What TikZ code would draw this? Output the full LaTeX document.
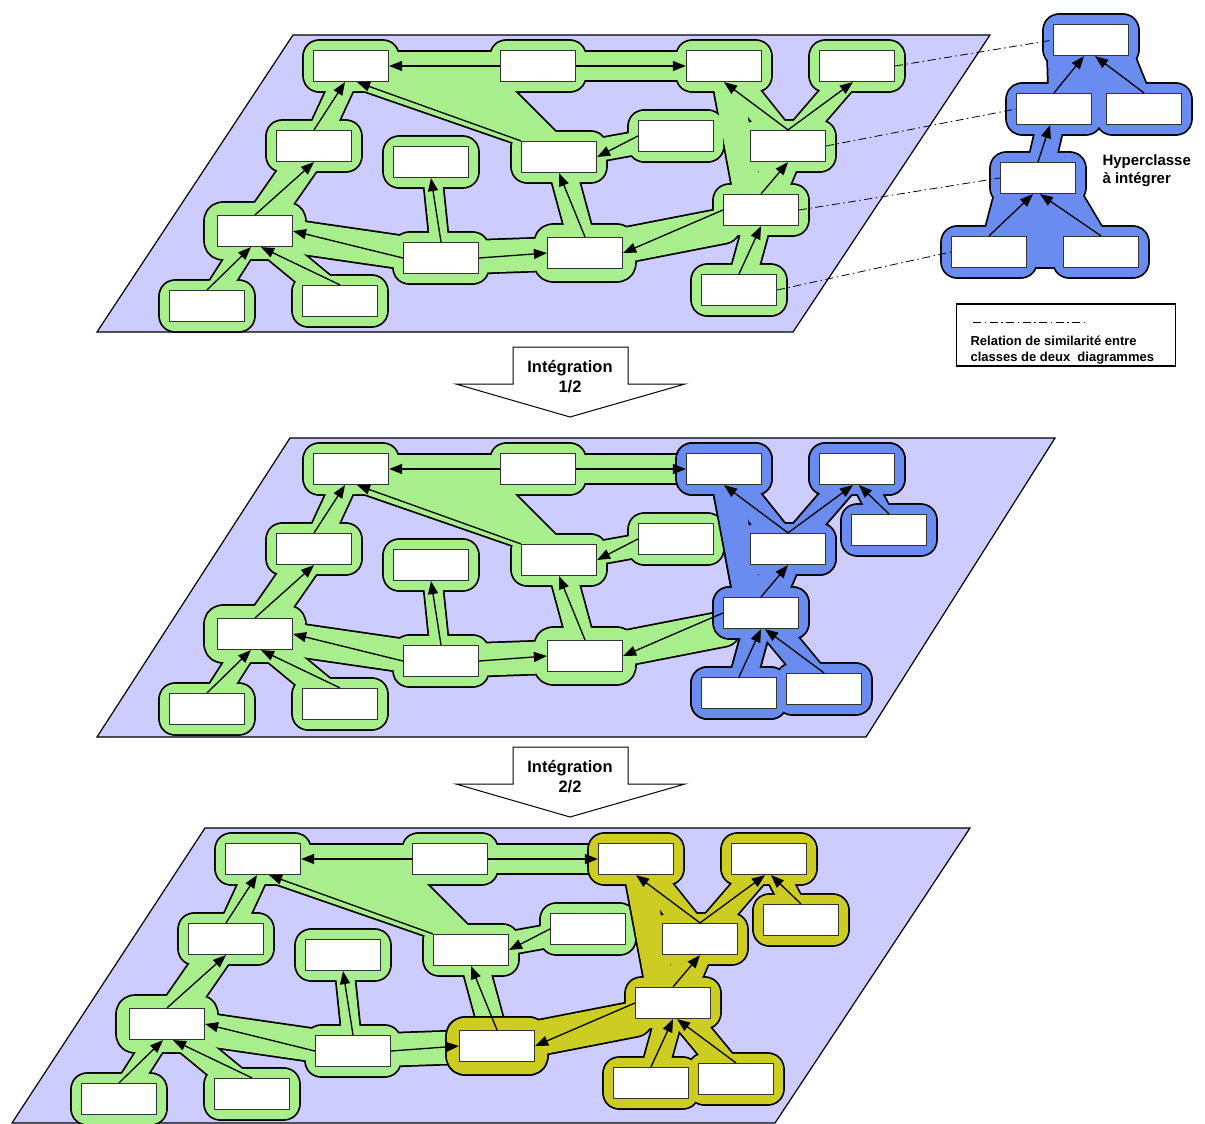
\documentclass[tikz,border=0pt]{standalone}
\usepackage{fontspec}
\setmainfont{Liberation Sans}
\usetikzlibrary{arrows.meta, positioning, calc}
\definecolor{planecol}{HTML}{CCCCFF}
\definecolor{gcol}{HTML}{A8EE8C}
\definecolor{bcol}{HTML}{6A8CF0}
\definecolor{ycol}{HTML}{CCCC22}

\pgfdeclarelayer{plane}
\pgfdeclarelayer{gedge}
\pgfdeclarelayer{gfill}
\pgfdeclarelayer{bedge}
\pgfdeclarelayer{bfill}
\pgfdeclarelayer{yedge}
\pgfdeclarelayer{yfill}
\pgfsetlayers{plane,gedge,gfill,bedge,bfill,yedge,yfill,main}

\tikzset{
  cls/.style={draw=black!80, fill=white, line width=1.2pt, minimum width=75pt, minimum height=31pt, inner sep=0pt},
  inh/.style={-{Triangle[length=13pt,width=10pt]}, line width=1.3pt},
  simil/.style={line width=0.8pt, dash pattern=on 8pt off 3.5pt on 1.5pt off 3.5pt},
  blobline/.style={line cap=round, line join=round},
  planebox/.style={fill=planecol, draw=black, line width=1.2pt},
  bigarrow/.style={fill=white, draw=black, line width=1pt},
  lbl/.style={font=\bfseries\fontsize{16.5}{20}\selectfont, align=center}
}

% one piece of a blob: black rim first, colour on top
\newcommand{\blobpart}[4][]{%
  \begin{pgfonlayer}{#2edge}
    \draw[blobline, color=black, line width=#3+3.5pt, #1] #4;
  \end{pgfonlayer}
  \begin{pgfonlayer}{#2fill}
    \draw[blobline, color=#2col, line width=#3, #1] #4;
  \end{pgfonlayer}%
}
\newcommand{\blobpad}[3]{\blobpart[fill, rounded corners=6pt]{#1}{#3}{(#2.south west) rectangle (#2.north east)}}

% classes of one diagram
\newcommand{\planeclasses}[1]{%
  \node[cls] (#1A) at (351,66) {};
  \node[cls] (#1B) at (314,146) {};
  \node[cls] (#1C) at (255,231) {};
  \node[cls] (#1D) at (207,306) {};
  \node[cls] (#1E) at (340,301) {};
  \node[cls] (#1F) at (431,162) {};
  \node[cls] (#1G) at (441,258) {};
  \node[cls] (#1H) at (538,66) {};
  \node[cls] (#1I) at (559,157) {};
  \node[cls] (#1J) at (676,136) {};
  \node[cls] (#1K) at (585,253) {};
  \node[cls] (#1L) at (724,66) {};
  \node[cls] (#1M) at (857,66) {};
  \node[cls] (#1N) at (788,146) {};
  \node[cls] (#1O) at (761,210) {};
  \node[cls] (#1P) at (739,290) {};
}

\newcommand{\planelinks}[1]{%
  \draw[inh] (#1H.west) -- (#1A.east);
  \draw[inh] (#1H.east) -- (#1L.west);
  \draw[inh] (#1B.north) -- ([xshift=-6pt]#1A.south);
  \draw[inh] (#1C.north) -- (#1B.south);
  \draw[inh] (#1D.north) -- ([xshift=-4pt]#1C.south);
  \draw[inh] (#1E.north) -- ([xshift=6pt]#1C.south);
  \draw[inh] (#1G.west) -- (#1C.east);
  \draw[inh] (#1G.north) -- (#1F.south);
  \draw[inh] (#1G.east) -- (#1K.west);
  \draw[inh] (#1I.north west) -- ([xshift=6pt]#1A.south);
  \draw[inh] (#1K.north) -- (#1I.south);
  \draw[inh] (#1J.west) -- (#1I.east);
  \draw[inh] (#1N.north) -- (#1L.south);
  \draw[inh] (#1N.north) -- ([xshift=-4pt]#1M.south);
  \draw[inh] (#1O.north) -- (#1N.south);
  \draw[inh] (#1O.west) -- (#1K.east);
  \draw[inh] (#1P.north) -- (#1O.south);
}

% green hyperclasses on the left of a diagram
\newcommand{\greenleft}[1]{%
  \foreach \c in {A,B,D,E,F,G,H,I,J} {\blobpad{g}{#1\c}{18pt}}
  \blobpad{g}{#1C}{24pt}
  \blobpad{g}{#1K}{24pt}
  \blobpart{g}{28pt}{(#1A.center) -- (#1H.center) -- (#1L.center)}
  \blobpart[fill]{g}{8pt}{(#1A.south) -- (#1H.south west) -- (#1I.north) -- (#1I.north west) -- cycle}
  \blobpart{g}{24pt}{(#1A.center) -- (#1B.center)}
  \blobpart{g}{32pt}{(#1B.center) -- (#1C.center)}
  \blobpart{g}{22pt}{(#1C.center) -- (#1D.center)}
  \blobpart{g}{26pt}{(#1C.center) -- (#1E.center)}
  \blobpart{g}{32pt}{(#1C.center) -- (#1G.center) -- (#1K.center)}
  \blobpart{g}{18pt}{(#1F.center) -- (#1G.center)}
  \blobpart{g}{26pt}{(#1I.center) -- (#1K.center)}
  \blobpart{g}{22pt}{(#1J.center) -- (#1I.center)}
}

% hyperclass on the right of a diagram
\newcommand{\rightnet}[2]{%
  \foreach \c in {L,M,N,O,P} {\blobpad{#2}{#1\c}{18pt}}
  \blobpart{#2}{26pt}{(#1N.center) -- (#1L.center)}
  \blobpart{#2}{24pt}{(#1N.center) -- (#1M.center)}
  \blobpart{#2}{28pt}{(#1L.center) -- ([xshift=-10pt]#1O.center)}
  \blobpart{#2}{34pt}{(#1N.center) -- (#1O.center)}
  \blobpart{#2}{26pt}{(#1O.center) -- (#1P.center)}
}
\newcommand{\extranet}[2]{%
  \foreach \c in {R,S} {\blobpad{#2}{#1\c}{18pt}}
  \blobpart{#2}{22pt}{(#1R.center) -- (#1M.center)}
  \blobpart{#2}{26pt}{(#1O.center) -- (#1S.center)}
  \blobpart{#2}{34pt}{(#1P.center) -- (#1S.center)}
}

\begin{document}
\begin{tikzpicture}[x=1pt, y=-1pt]
\useasboundingbox (0,0) rectangle (1205,1124);

% the three planes
\begin{pgfonlayer}{plane}
  \draw[planebox] (293,35) -- (990,35) -- (793,332) -- (97,332) -- cycle;
  \draw[planebox] (290,438) -- (1055,438) -- (866,737) -- (97,737) -- cycle;
  \draw[planebox] (205,828) -- (970,828) -- (775,1123) -- (12,1123) -- cycle;
\end{pgfonlayer}

% starting diagram
\planeclasses{p}
\planelinks{p}
\greenleft{p}
\rightnet{p}{g}
\blobpart{g}{34pt}{(pK.center) -- (pO.south west)}

% hyperclass to integrate
\node[cls] (h1) at (1091,40) {};
\node[cls] (h2) at (1054,109) {};
\node[cls] (h3) at (1144,109) {};
\node[cls] (h4) at (1038,178) {};
\node[cls] (h5) at (989,252) {};
\node[cls] (h6) at (1101,252) {};
\draw[inh] (h2.north) -- ([xshift=-7pt]h1.south);
\draw[inh] (h3.north) -- ([xshift=4pt]h1.south);
\draw[inh] (h4.north) -- ([xshift=-4pt]h2.south);
\draw[inh] (h5.north) -- ([xshift=-5pt]h4.south);
\draw[inh] (h6.north) -- ([xshift=2pt]h4.south);
\foreach \c in {h1,h2,h3,h4,h5,h6} {\blobpad{b}{\c}{18pt}}
\blobpart{b}{26pt}{(h2.center) -- (h1.center) -- (h3.center)}
\blobpart{b}{30pt}{(h2.center) -- (h3.center)}
\blobpart{b}{26pt}{(h4.center) -- (h2.center)}
\blobpart{b}{30pt}{(h5.center) -- (h4.center) -- (h6.center)}
\blobpart{b}{30pt}{(h5.center) -- (h6.center)}
\blobpart[fill]{b}{10pt}{(h1.south west) -- (h1.south east) -- (h3.north) -- (h2.north) -- cycle}
\blobpart[fill]{b}{10pt}{(h4.south west) -- (h4.south east) -- (h6.north) -- (h5.north) -- cycle}
\node[anchor=west, align=left, font=\bfseries\fontsize{15}{18}\selectfont] (hyper) at (1099,171) {Hyperclasse\\à intégrer};

% similarity relations
\draw[simil] (pM.east) -- (h1.west);
\draw[simil] (pN.east) -- (h2.west);
\draw[simil] (pO.east) -- (h4.west);
\draw[simil] (pP.east) -- (h5.west);

% legend
\node[draw, line width=1.3pt, minimum width=219pt, minimum height=62pt] (legend) at (1066,335) {};
\coordinate (lgA) at (973,322);
\coordinate (lgB) at (1085,322);
\draw[simil] (lgA) -- (lgB);
\node[anchor=west, align=left, font=\bfseries\fontsize{13}{16}\selectfont] (legtxt) at (967,350) {Relation de similarité entre\\classes de deux\ \ diagrammes};

% integration steps
\draw[bigarrow] (513,347) -- (628,347) -- (628,384) -- (685,384) -- (570,417) -- (456,384) -- (513,384) -- cycle;
\node[lbl] (integ1) at (570,377) {Intégration\\1/2};
\draw[bigarrow] (513,747) -- (628,747) -- (628,784) -- (685,784) -- (570,817) -- (456,784) -- (513,784) -- cycle;
\node[lbl] (integ2) at (570,777) {Intégration\\2/2};

% diagram after step 1
\begin{scope}[shift={(0,403)}]
  \planeclasses{q}
  \node[cls] (qR) at (889,127) {};
  \node[cls] (qS) at (824,286) {};
\end{scope}
\planelinks{q}
\draw[inh] (qR.north) -- ([xshift=2pt]qM.south);
\draw[inh] (qS.north) -- ([xshift=4pt]qO.south);
\greenleft{q}
\rightnet{q}{g}
\blobpart{g}{34pt}{(qK.center) -- (qO.south west)}
\rightnet{q}{b}
\extranet{q}{b}

% diagram after step 2
\begin{scope}[shift={(-88,793)}]
  \planeclasses{r}
  \node[cls] (rR) at (889,127) {};
  \node[cls] (rS) at (824,286) {};
\end{scope}
\planelinks{r}
\draw[inh] (rR.north) -- ([xshift=2pt]rM.south);
\draw[inh] (rS.north) -- ([xshift=4pt]rO.south);
\greenleft{r}
\rightnet{r}{y}
\extranet{r}{y}
\blobpad{y}{rK}{24pt}
\blobpart{y}{34pt}{(rK.center) -- (rO.south west)}
\end{tikzpicture}
\end{document}
